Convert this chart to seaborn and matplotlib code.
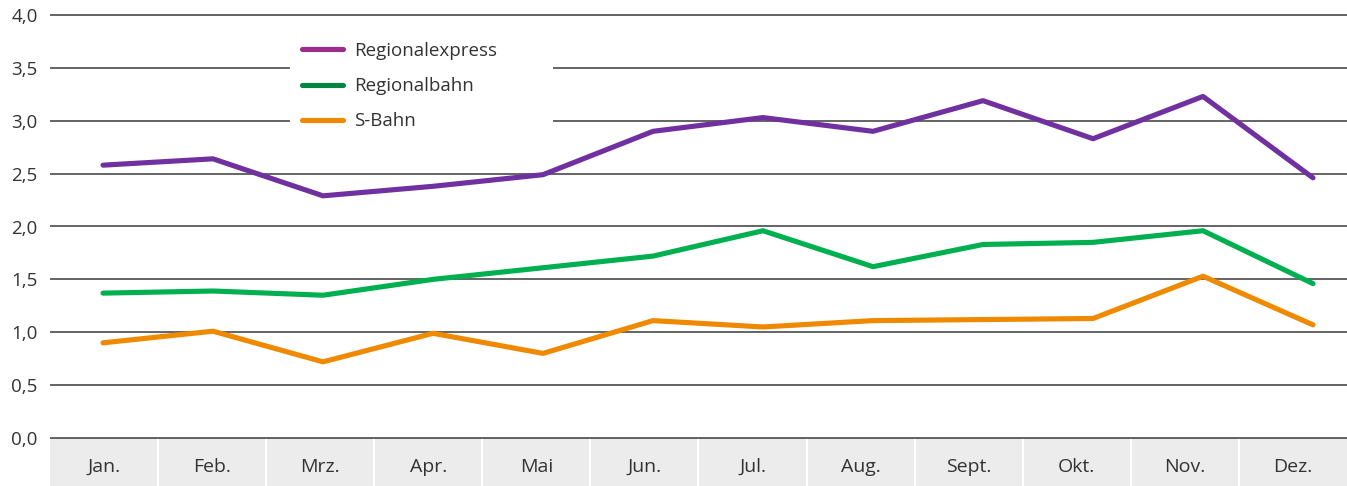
import pandas as pd
import matplotlib.pyplot as plt
import seaborn as sns
from matplotlib.lines import Line2D
from matplotlib.patches import Rectangle

# ========== DATA ==========
months = ['Jan.', 'Feb.', 'Mrz.', 'Apr.', 'Mai', 'Jun.', 'Jul.', 'Aug.',
          'Sept.', 'Okt.', 'Nov.', 'Dez.']
regionalexpress = [2.58, 2.64, 2.29, 2.38, 2.49, 2.90, 3.03, 2.90, 3.19, 2.83, 3.23, 2.46]
regionalbahn = [1.37, 1.39, 1.35, 1.50, 1.61, 1.72, 1.96, 1.62, 1.83, 1.85, 1.96, 1.46]
s_bahn = [0.90, 1.01, 0.72, 0.99, 0.80, 1.11, 1.05, 1.11, 1.12, 1.13, 1.53, 1.07]
series_names = ['Regionalexpress', 'Regionalbahn', 'S-Bahn']
y_ticks = [0.0, 0.5, 1.0, 1.5, 2.0, 2.5, 3.0, 3.5, 4.0]

line_colors = {'Regionalexpress': '#7030a0', 'Regionalbahn': '#00b050', 'S-Bahn': '#ef8a00'}
legend_colors = ['#9b2d8c', '#00853e', '#ef8a00']

df = pd.DataFrame({
    'Monat': months * 3,
    'Wert': regionalexpress + regionalbahn + s_bahn,
    'Linie': sum([[n] * len(months) for n in series_names], []),
})

# ========== FIGURE ==========
sns.set_style('white')
plt.rcParams['font.family'] = ['Open Sans', 'DejaVu Sans']

W, H = 1347, 486
fig = plt.figure(figsize=(W / 100, H / 100), dpi=100)
px_per_unit = (438 - 15) / 4.0
band = 48 / px_per_unit
top_pad = 6 / px_per_unit
ax_top = 15 - 6
ax_w = W - 50
ax = fig.add_axes([50 / W, 0, ax_w / W, 1 - ax_top / H])

ax.set_xlim(-0.5, 11.5)
ax.set_ylim(-band, 4.0 + top_pad)

# gray band with month names
ax.axhspan(-band, 0, color='#ececec', zorder=0)
for i in range(1, len(months)):
    ax.plot([i - 0.5, i - 0.5], [-band, 0], color='white', lw=1.5, zorder=1)
for i, m in enumerate(months):
    ax.text(i, -band * 0.6, m, ha='center', va='center', fontsize=14, color='#333333')

# gridlines
for t in y_ticks:
    ax.axhline(t, color='#3a3a3a', lw=1.1, zorder=1)

ax.set_yticks(y_ticks)
ax.set_yticklabels([f'{t:.1f}'.replace('.', ',') for t in y_ticks], fontsize=13.5, color='#333333')
ax.tick_params(axis='y', length=0, pad=9)
ax.set_xticks([])
ax.set_xlabel('')
ax.set_ylabel('')
for s in ax.spines.values():
    s.set_visible(False)

# lines sit on their own x scale (slightly wider spacing than the month cells)
ax2 = ax.twiny()
sns.lineplot(data=df, x='Monat', y='Wert', hue='Linie', palette=line_colors,
             linewidth=3.7, legend=False, ax=ax2, zorder=3)
for ln in ax2.lines:
    ln.set_solid_capstyle('round')
step = 110
ax2.set_xlim(-53 / step, (ax_w - 53) / step)
ax2.set_ylim(ax.get_ylim())
ax2.set_xticks([])
ax2.set_xlabel('')
ax2.set_ylabel('')
for s in ax2.spines.values():
    s.set_visible(False)

# legend on a white box
fig.patches.append(Rectangle((290 / W, 1 - 136 / H), (553 - 290) / W, 100 / H,
                             transform=fig.transFigure, facecolor='white',
                             edgecolor='none', zorder=2))
handles = [Line2D([0], [0], color=c, lw=3.7, solid_capstyle='round') for c in legend_colors]
leg = fig.legend(handles, series_names, loc='upper left',
                 bbox_to_anchor=(302 / W, 1 - 42 / H), bbox_transform=fig.transFigure,
                 frameon=False, fontsize=13.5, handlelength=2.2, handletextpad=0.6,
                 labelspacing=0.92, borderpad=0, borderaxespad=0)
leg.set_zorder(5)
for t in leg.get_texts():
    t.set_color('#333333')

plt.savefig('out.png', dpi=100)
